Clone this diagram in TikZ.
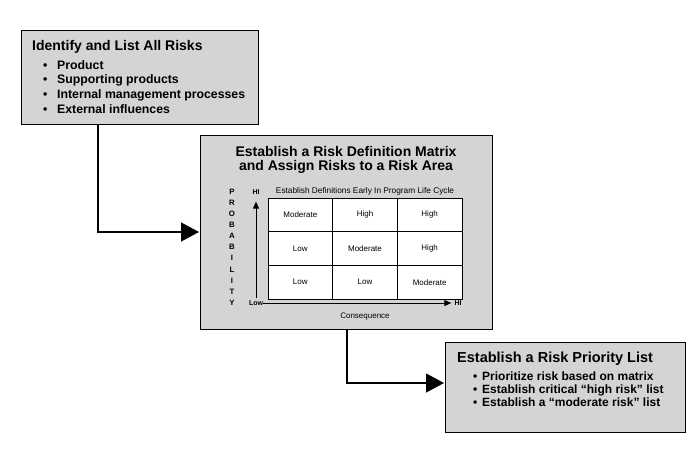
\documentclass[tikz,border=0pt]{standalone}
\usepackage{fontspec}
\setmainfont{Liberation Sans}
\usetikzlibrary{arrows.meta,positioning}
\definecolor{boxgray}{RGB}{212,212,212}
\newcommand{\fs}[1]{\fontsize{#1}{#1}\selectfont}
\newcommand{\bul}[1]{\makebox[#1][l]{\textbullet}}

\begin{document}
\begin{tikzpicture}[x=1pt,y=-1pt,
		stepbox/.style={draw,fill=boxgray,line width=1.2pt,anchor=north west,inner sep=0pt},
		headtext/.style={anchor=base west,inner sep=0pt,font=\fs{14}\bfseries},
		itemtext/.style={anchor=base west,inner sep=0pt,font=\fs{12}\bfseries},
		cell/.style={draw,fill=white,line width=0.8pt,minimum width=64.67pt,minimum height=33.67pt,inner sep=0pt,font=\fs{8}},
		axislabel/.style={inner sep=0pt,font=\fs{7}\bfseries},
		flow/.style={line width=1.2pt,-{Triangle[length=18pt,width=19pt]}},
		axis/.style={line width=0.8pt,-{Triangle[length=7pt,width=6pt]}}]

	\useasboundingbox (0,0) rectangle (700,450);

	% boxes
	\node[stepbox,minimum width=237pt,minimum height=94pt] (box1) at (21,30) {};
	\node[stepbox,minimum width=292pt,minimum height=194pt] (box2) at (200,135) {};
	\node[stepbox,minimum width=240pt,minimum height=90pt] (box3) at (445,342) {};

	% identify
	\node[headtext] (t1) at (32,50) {Identify and List All Risks};
	\node[itemtext,font=\fs{12.3}\bfseries] (i1a) at (43,69) {\bul{14pt}Product};
	\node[itemtext,font=\fs{12.3}\bfseries] (i1b) at (43,83.8) {\bul{14pt}Supporting products};
	\node[itemtext,font=\fs{12.3}\bfseries] (i1c) at (43,98.6) {\bul{14pt}Internal management processes};
	\node[itemtext,font=\fs{12.3}\bfseries] (i1d) at (43,113.4) {\bul{14pt}External influences};

	% matrix box
	\node[anchor=base,inner sep=0pt,font=\fs{14}\bfseries] (t2a) at (346,156.7) {Establish a Risk Definition Matrix};
	\node[anchor=base,inner sep=0pt,font=\fs{14}\bfseries] (t2b) at (346,170.7) {and Assign Risks to a Risk Area};
	\node[anchor=base,inner sep=0pt,font=\fs{8.3}] (hdr) at (365,193.3) {Establish Definitions Early In Program Life Cycle};

	\node[cell] (c11) at (300.33,214.83) {Moderate};
	\node[cell] (c12) at (365,214.83) {High};
	\node[cell] (c13) at (429.67,214.83) {High};
	\node[cell] (c21) at (300.33,248.5) {Low};
	\node[cell] (c22) at (365,248.5) {Moderate};
	\node[cell] (c23) at (429.67,248.5) {High};
	\node[cell] (c31) at (300.33,282.17) {Low};
	\node[cell] (c32) at (365,282.17) {Low};
	\node[cell] (c33) at (429.67,282.17) {Moderate};

	\node[axislabel] (low) at (256,303) {Low};
	\node[axislabel] (yhi) at (256,192) {HI};
	\node[axislabel] (xhi) at (458,303) {HI};
	\node[inner sep=0pt,align=center,font=\fontsize{7.8}{11.1}\selectfont\bfseries] (prob) at (232,247.2) {P\\R\\O\\B\\A\\B\\I\\L\\I\\T\\Y};
	\node[anchor=base,inner sep=0pt,font=\fs{8}] (cons) at (365,318) {Consequence};

	\draw[axis,shorten <=2pt,shorten >=7pt] (low) -- (yhi);
	\draw[axis,shorten >=3pt] (low) -- (xhi);

	% priority list
	\node[headtext,font=\fs{14.5}\bfseries] (t3) at (457,362.3) {Establish a Risk Priority List};
	\node[itemtext] (i3a) at (473,380.7) {\bul{9pt}Prioritize risk based on matrix};
	\node[itemtext] (i3b) at (473,393.5) {\bul{9pt}Establish critical “high risk” list};
	\node[itemtext] (i3c) at (473,406.3) {\bul{9pt}Establish a “moderate risk” list};

	% connectors
	\coordinate (bend1) at (98,232);
	\coordinate (bend2) at (347,383);
	\draw[flow,shorten >=1pt] (box1.south -| bend1) |- (box2.west |- bend1);
	\draw[flow,shorten >=1pt] (box2.south -| bend2) |- (box3.west |- bend2);

\end{tikzpicture}
\end{document}
